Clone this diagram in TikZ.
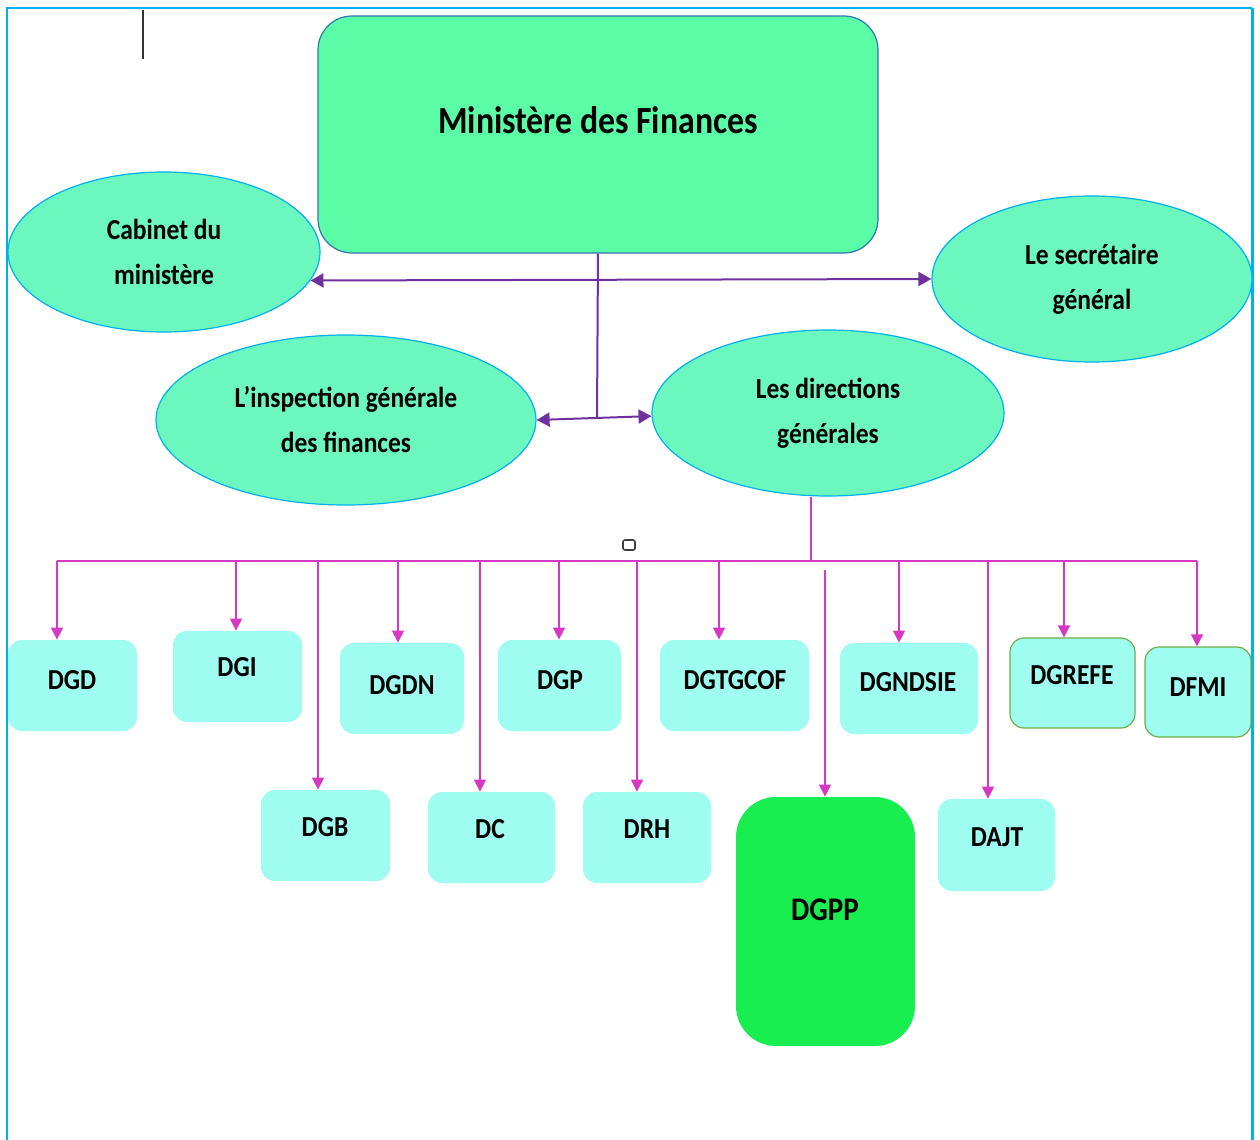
\documentclass[tikz,border=0pt]{standalone}
\usepackage{fontspec}
\setmainfont{Carlito}[FakeStretch=0.88]
\usetikzlibrary{shapes.geometric,arrows.meta,fit,positioning}
\definecolor{frameblue}{HTML}{00B0F0}
\definecolor{minigreen}{HTML}{5AFCA6}
\definecolor{miniedge}{HTML}{2E75B6}
\definecolor{ellgreen}{HTML}{6CF7BE}
\definecolor{boxcyan}{HTML}{9FFCF0}
\definecolor{dgppgreen}{HTML}{18EE50}
\definecolor{edgegreen}{HTML}{70AD47}
\definecolor{linkpurple}{HTML}{7030A0}
\definecolor{linkpink}{HTML}{D638C4}

\begin{document}
\begin{tikzpicture}[x=0.5pt,y=-0.5pt,
    ell/.style={ellipse, draw=frameblue, line width=0.6pt, fill=ellgreen, align=center, inner sep=0pt,
      font=\fontsize{14.5}{22.5}\selectfont\bfseries},
    dirbox/.style={rectangle, rounded corners=7pt, fill=boxcyan, inner sep=0pt},
    dirtext/.style={font=\fontsize{14.5}{17}\selectfont\bfseries, inner sep=0pt},
    purp/.style={draw=linkpurple, line width=1pt},
    pinkln/.style={draw=linkpink, line width=0.75pt},
    pinkarr/.style={pinkln, -{Triangle[length=6pt,width=6pt]}},
    purparr/.style={purp, {Triangle[length=6.5pt,width=7pt]}-{Triangle[length=6.5pt,width=7pt]}}
  ]
  \useasboundingbox (0,0) rectangle (1260,1140);

  % page frame
  \draw[frameblue, line width=1pt] (7,1140) -- (7,8) -- (1252,8);
  \draw[frameblue, line width=1.5pt] (1252,8) -- (1252,1140);
  \draw[black!80, line width=0.6pt] (143,10) -- (143,59);

  % top level
  \node[rectangle, rounded corners=17pt, draw=miniedge, line width=0.6pt, fill=minigreen,
        minimum width=280pt, minimum height=118.5pt] (mini) at (598,134.5) {};
  \node[font=\fontsize{19.2}{22}\selectfont\bfseries] (minit) at (598,120) {Ministère des Finances};

  \node[ell, minimum width=156pt, minimum height=80pt] (cab) at (164,252) {Cabinet du\\ministère};
  \node[ell, minimum width=160pt, minimum height=83pt] (sec) at (1092,279) {Le secrétaire\\général};
  \node[ell, minimum width=190pt, minimum height=85pt] (insp) at (346,420) {L’inspection générale\\des finances};
  \node[ell, minimum width=176pt, minimum height=83pt] (dirs) at (828,413) {Les directions\\générales};

  \coordinate (jn) at (597,418);
  \draw[purp] (mini.south) -- (jn);
  \draw[purparr] (cab.-11) -- (sec.west);
  \draw[purparr] (insp.0.5) -- (dirs.181.6);

  % directions
  \node[dirbox, fit={(8,640) (137,731)}] (dgd) {};
  \node[dirbox, fit={(173,631) (302,722)}] (dgi) {};
  \node[dirbox, fit={(340,643) (464,734)}] (dgdn) {};
  \node[dirbox, fit={(498,640) (621,731)}] (dgp) {};
  \node[dirbox, fit={(660,640) (809,731)}] (dgtgcof) {};
  \node[dirbox, fit={(840,643) (978,734)}] (dgndsie) {};
  \node[dirbox, draw=edgegreen, line width=0.6pt, fit={(1010,638) (1135,728)}] (dgrefe) {};
  \node[dirbox, draw=edgegreen, line width=0.6pt, fit={(1145,647) (1251,737)}] (dfmi) {};
  \node[dirbox, fit={(261,790) (390,881)}] (dgb) {};
  \node[dirbox, fit={(428,792) (555,883)}] (dc) {};
  \node[dirbox, fit={(583,792) (711,883)}] (drh) {};
  \node[dirbox, fit={(938,799) (1055,891)}] (dajt) {};
  \node[dirbox, rounded corners=20pt, fill=dgppgreen, fit={(736,797) (915,1046)}] (dgpp) {};

  \node[dirtext] (dgdt) at (72,680) {DGD};
  \node[dirtext] (dgit) at (237,667) {DGI};
  \node[dirtext] (dgdnt) at (402,685) {DGDN};
  \node[dirtext] (dgpt) at (560,680) {DGP};
  \node[dirtext] (dgtgcoft) at (735,680) {DGTGCOF};
  \node[dirtext] (dgndsiet) at (908,682) {DGNDSIE};
  \node[dirtext] (dgrefet) at (1072,675) {DGREFE};
  \node[dirtext] (dfmit) at (1198,687) {DFMI};
  \node[dirtext] (dgbt) at (325,827) {DGB};
  \node[dirtext] (dct) at (490,829) {DC};
  \node[dirtext] (drht) at (647,829) {DRH};
  \node[dirtext] (dajtt) at (997,837) {DAJT};
  \node[font=\fontsize{16.5}{19}\selectfont\bfseries, inner sep=0pt] (dgppt) at (825,910) {DGPP};

  \node[draw=black!75, line width=0.8pt, rounded corners=1pt, minimum width=6pt, minimum height=5pt,
        inner sep=0pt] (mark) at (629,545) {};

  % bus
  \coordinate (busL) at (57,561);
  \coordinate (busR) at (1197,561);
  \coordinate (dk) at (811,561);
  \draw[pinkln] (dirs.south -| dk) -- (dk);
  \draw[pinkln] (busL) -- (busR);
  \draw[pinkarr] (busL) -- (busL |- dgd.north);
  \draw[pinkarr] (busR) -- (busR |- dfmi.north);
  \foreach \bx/\bn in {236/dgi, 318/dgb, 398/dgdn, 480/dc, 559/dgp, 637/drh, 719/dgtgcof,
                       899/dgndsie, 988/dajt, 1064/dgrefe}{
    \coordinate (b\bn) at (\bx,561);
    \draw[pinkarr] (b\bn) -- (b\bn |- \bn.north);
  }
  \coordinate (bdgpp) at (825,570);
  \draw[pinkarr] (bdgpp) -- (bdgpp |- dgpp.north);
\end{tikzpicture}
\end{document}
